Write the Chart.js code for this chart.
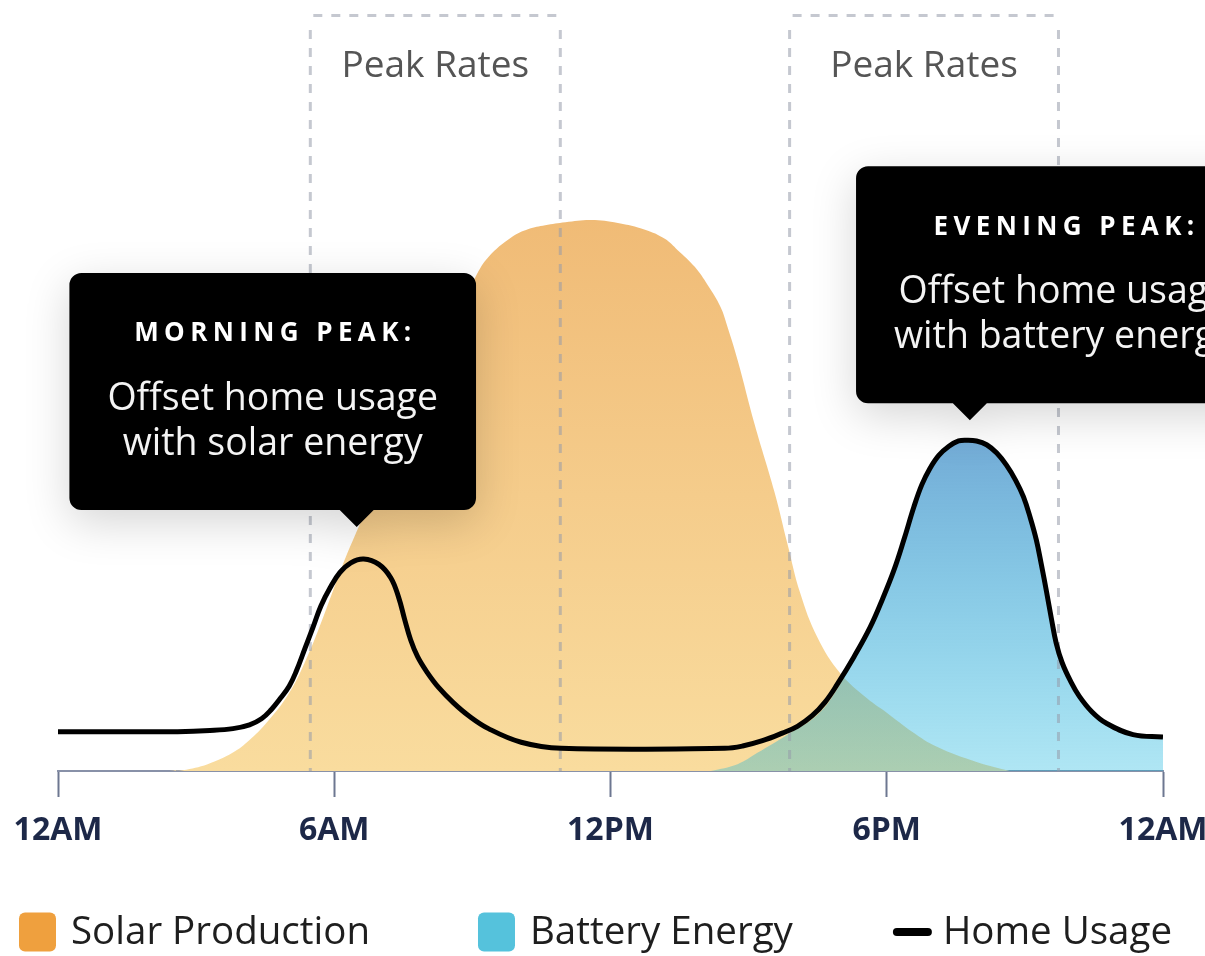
<!DOCTYPE html>
<html>
<head>
<meta charset="utf-8">
<script src="https://cdn.jsdelivr.net/npm/chart.js@4.4.1/dist/chart.umd.min.js"></script>
<style>
  html, body { margin: 0; padding: 0; background: #ffffff; }
  canvas { display: block; }
</style>
</head>
<body>
<canvas id="chart" width="1205" height="956"></canvas>
<script>
// ---------- data (hours of day, relative energy units) ----------
const tickHours  = [0, 6, 12, 18, 24];
const tickLabels = ['12AM', '6AM', '12PM', '6PM', '12AM'];

const seriesNames = ['Solar Production', 'Battery Energy', 'Home Usage'];

const solarHours  = [2.42, 2.71, 3.25, 3.79, 4.16, 4.52, 5.02, 5.45, 5.82, 6.17, 6.47, 6.97, 7.51, 8.05, 8.59, 9.07, 9.35, 9.85, 10.22, 10.58, 11.02, 11.58, 12.16, 12.75, 13.18, 13.46, 13.83, 14.11, 14.39, 14.54, 14.76, 15.13, 15.56, 15.84, 16.12, 16.49, 16.99, 17.57, 18.00, 18.55, 19.09, 19.95, 20.67];
const solarValues = [0, 0.01, 0.09, 0.24, 0.41, 0.63, 1.03, 1.56, 2.13, 2.70, 3.14, 3.82, 4.53, 5.24, 5.93, 6.53, 6.79, 7.05, 7.16, 7.21, 7.25, 7.28, 7.24, 7.15, 7.03, 6.88, 6.66, 6.42, 6.13, 5.87, 5.43, 4.58, 3.69, 3.01, 2.35, 1.77, 1.29, 0.96, 0.77, 0.52, 0.32, 0.12, 0];

const batteryHours  = [14.18, 14.76, 15.19, 15.84, 16.49, 16.92, 17.29, 17.64, 17.90, 18.16, 18.37, 18.59, 18.76, 18.94, 19.13, 19.35, 19.56, 19.74, 19.95, 20.17, 20.39, 20.60, 20.80, 20.97, 21.12, 21.25, 21.36, 21.47, 21.58, 21.68, 21.81, 21.99, 22.18, 22.46, 22.77, 23.35, 24];
const batteryValues = [0, 0.09, 0.24, 0.48, 0.74, 1.08, 1.51, 1.90, 2.26, 2.66, 3.05, 3.49, 3.78, 4.00, 4.17, 4.29, 4.36, 4.37, 4.36, 4.31, 4.20, 4.04, 3.84, 3.62, 3.34, 3.05, 2.72, 2.37, 2.00, 1.69, 1.43, 1.19, 0.99, 0.78, 0.63, 0.48, 0.45];

const homeHours  = [0, 1.50, 2.60, 3.30, 3.80, 4.16, 4.42, 4.63, 4.83, 5.02, 5.17, 5.37, 5.54, 5.71, 5.91, 6.12, 6.36, 6.64, 6.97, 7.23, 7.40, 7.53, 7.66, 7.81, 8.01, 8.27, 8.59, 8.92, 9.35, 10.06, 10.93, 14.48, 14.87, 15.30, 15.73, 16.06, 16.38, 16.66, 16.92, 17.29, 17.64, 17.90, 18.16, 18.37, 18.59, 18.76, 18.94, 19.13, 19.35, 19.56, 19.74, 19.95, 20.17, 20.39, 20.60, 20.80, 20.97, 21.12, 21.25, 21.36, 21.47, 21.58, 21.68, 21.81, 21.99, 22.18, 22.46, 22.77, 23.35, 24];
const homeValues = [0.52, 0.52, 0.52, 0.535, 0.56, 0.61, 0.69, 0.81, 0.96, 1.12, 1.31, 1.63, 1.90, 2.18, 2.42, 2.62, 2.75, 2.80, 2.73, 2.55, 2.29, 2.00, 1.73, 1.51, 1.31, 1.10, 0.90, 0.73, 0.56, 0.38, 0.30, 0.30, 0.33, 0.40, 0.50, 0.59, 0.73, 0.91, 1.14, 1.51, 1.90, 2.26, 2.66, 3.05, 3.49, 3.78, 4.00, 4.17, 4.29, 4.36, 4.37, 4.36, 4.31, 4.20, 4.04, 3.84, 3.62, 3.34, 3.05, 2.72, 2.37, 2.00, 1.69, 1.43, 1.19, 0.99, 0.78, 0.63, 0.48, 0.45];

const peakRateStarts = [5.48, 15.89];
const peakRateEnds   = [10.91, 21.73];
const peakRateLabel  = 'Peak Rates';

const calloutTitles = ['MORNING PEAK:', 'EVENING PEAK:'];
const calloutLines  = [['Offset home usage', 'with solar energy'], ['Offset home usage', 'with battery energy']];

// ---------- styling ----------
const FONT = '"Open Sans", "Noto Sans", sans-serif';
const legendColors = ['#EFA03E', '#55C2DC', '#000000'];

const toPoints = (xs, ys) => xs.map((x, i) => ({ x: x, y: ys[i] }));

function verticalGradient(chart, values, stops) {
  const area = chart.chartArea;
  if (!area) return null;
  const top = chart.scales.y.getPixelForValue(Math.max(...values));
  const g = chart.ctx.createLinearGradient(0, top, 0, area.bottom);
  stops.forEach(s => g.addColorStop(s[0], s[1]));
  return g;
}

// dashed "Peak Rates" frames, drawn above the fills but below the home-usage line
const peakRatesPlugin = {
  id: 'peakRates',
  beforeDatasetDraw(chart, args) {
    if (args.index !== 2) return;
    const { ctx, chartArea: a, scales: { x, y } } = chart;
    const base = y.getPixelForValue(0);
    ctx.save();
    ctx.strokeStyle = 'rgba(150,155,170,0.55)';
    ctx.lineWidth = 3;
    ctx.setLineDash([9, 9]);
    peakRateStarts.forEach((s, i) => {
      const x1 = x.getPixelForValue(s);
      const x2 = x.getPixelForValue(peakRateEnds[i]);
      ctx.beginPath();
      ctx.moveTo(x1 + 3, a.top + 1.5);
      ctx.lineTo(x2, a.top + 1.5);
      ctx.stroke();
      [x1, x2].forEach(px => {
        ctx.beginPath();
        ctx.moveTo(px, a.top + 16);
        ctx.lineTo(px, base);
        ctx.stroke();
      });
      ctx.fillStyle = '#555555';
      ctx.font = '37px ' + FONT;
      ctx.textAlign = 'center';
      ctx.textBaseline = 'middle';
      ctx.fillText(peakRateLabel, (x1 + x2) / 2, a.top + 52);
    });
    ctx.restore();
  }
};

// callout boxes anchored on the home-usage peak inside each peak-rate window
const calloutPlugin = {
  id: 'callouts',
  afterDraw(chart, args, opts) {
    const { ctx, scales: { x, y } } = chart;
    calloutTitles.forEach((title, i) => {
      let best = -1;
      homeHours.forEach((h, k) => {
        if (h >= peakRateStarts[i] && h <= peakRateEnds[i] && (best < 0 || homeValues[k] > homeValues[best])) best = k;
      });
      const px = x.getPixelForValue(homeHours[best]);
      const py = y.getPixelForValue(homeValues[best]);
      const L = opts.layout[i];
      const tipX = px + L.tipDx, tipY = py + L.tipDy;
      const boxBottom = tipY - 17;
      const boxTop = boxBottom - 237;
      ctx.save();
      ctx.font = '37.5px ' + FONT;
      const w = Math.max(...calloutLines[i].map(l => ctx.measureText(l).width)) + 76;
      const cx = px + L.boxDx;
      const left = cx - w / 2;
      ctx.shadowColor = 'rgba(0,0,0,0.17)';
      ctx.shadowBlur = 45;
      ctx.shadowOffsetY = 12;
      ctx.fillStyle = '#000000';
      ctx.beginPath();
      ctx.roundRect(left, boxTop, w, boxBottom - boxTop, 12);
      ctx.moveTo(tipX - 18, boxBottom - 1);
      ctx.lineTo(tipX + 18, boxBottom - 1);
      ctx.lineTo(tipX, tipY);
      ctx.closePath();
      ctx.fill();
      ctx.restore();

      ctx.save();
      ctx.fillStyle = '#ffffff';
      ctx.textAlign = 'center';
      ctx.textBaseline = 'middle';
      ctx.font = 'bold 26px ' + FONT;
      ctx.letterSpacing = '5.4px';
      ctx.fillText(title, cx + 2.7, boxTop + 61);
      ctx.letterSpacing = '0px';
      ctx.font = '37.5px ' + FONT;
      ctx.fillStyle = '#f4f4f4';
      calloutLines[i].forEach((line, j) => ctx.fillText(line, cx, boxTop + 126 + j * 45));
      ctx.restore();
    });
  }
};

// legend along the bottom
const legendPlugin = {
  id: 'bottomLegend',
  afterDraw(chart) {
    const ctx = chart.ctx;
    const cy = chart.height - 24;
    let cur = 19;
    ctx.save();
    ctx.font = '38.5px ' + FONT;
    ctx.textBaseline = 'middle';
    ctx.textAlign = 'left';
    chart.data.datasets.forEach((ds, i) => {
      if (ds.legendMark === 'box') {
        ctx.fillStyle = legendColors[i];
        ctx.beginPath();
        ctx.roundRect(cur, cy - 19.5, 37, 39, 6);
        ctx.fill();
        cur += 37 + 15;
      } else {
        ctx.strokeStyle = legendColors[i];
        ctx.lineWidth = 8;
        ctx.lineCap = 'round';
        ctx.beginPath();
        ctx.moveTo(cur - 4, cy);
        ctx.lineTo(cur + 27, cy);
        ctx.stroke();
        cur += 42;
      }
      ctx.fillStyle = '#1e1e1e';
      ctx.fillText(ds.label, cur, cy + 1);
      cur += ctx.measureText(ds.label).width + 108;
    });
    ctx.restore();
  }
};

const lineCommon = { pointRadius: 0, tension: 0.4 };

new Chart(document.getElementById('chart'), {
  type: 'line',
  data: {
    datasets: [
      Object.assign({
        label: seriesNames[0],
        data: toPoints(solarHours, solarValues),
        order: 2,
        fill: 'origin',
        borderWidth: 0,
        borderColor: 'rgba(0,0,0,0)',
        legendMark: 'box',
        backgroundColor: ctx => verticalGradient(ctx.chart, solarValues, [[0, '#F0BB76'], [0.5, '#F5CC8B'], [1, '#F9DC9E']])
      }, lineCommon),
      Object.assign({
        label: seriesNames[1],
        data: toPoints(batteryHours, batteryValues),
        order: 1,
        fill: 'origin',
        borderWidth: 0,
        borderColor: 'rgba(0,0,0,0)',
        legendMark: 'box',
        backgroundColor: ctx => verticalGradient(ctx.chart, batteryValues, [[0, 'rgba(66,142,200,0.74)'], [1, 'rgba(8,177,220,0.32)']])
      }, lineCommon),
      Object.assign({
        label: seriesNames[2],
        data: toPoints(homeHours, homeValues),
        order: 0,
        fill: false,
        borderColor: '#000000',
        borderWidth: 5,
        legendMark: 'line'
      }, lineCommon)
    ]
  },
  options: {
    responsive: false,
    animation: false,
    events: [],
    layout: { padding: { left: 58, right: 42, top: 14, bottom: 105 } },
    plugins: {
      legend: { display: false },
      tooltip: { enabled: false },
      callouts: {
        layout: [
          { tipDx: -7, tipDy: -32, boxDx: -91 },
          { tipDx: 3, tipDy: -20, boxDx: 97 }
        ]
      }
    },
    scales: {
      x: {
        type: 'linear',
        min: 0,
        max: 24,
        z: 1,
        afterBuildTicks: s => { s.ticks = tickHours.map(v => ({ value: v })); },
        afterFit: s => { s.height = 80; s.paddingLeft = 0; s.paddingRight = 42; },
        ticks: {
          autoSkip: false,
          maxRotation: 0,
          padding: 15,
          color: '#1d2848',
          font: { family: FONT, size: 32, weight: 'bold' },
          callback: v => tickLabels[tickHours.indexOf(v)]
        },
        grid: { drawOnChartArea: false, drawTicks: true, tickLength: 26, tickColor: '#6d7791', tickWidth: 2 },
        border: { display: true, color: '#8891a8', width: 2 }
      },
      y: {
        display: false,
        min: 0,
        max: 10
      }
    }
  },
  plugins: [peakRatesPlugin, calloutPlugin, legendPlugin]
});
</script>
</body>
</html>
